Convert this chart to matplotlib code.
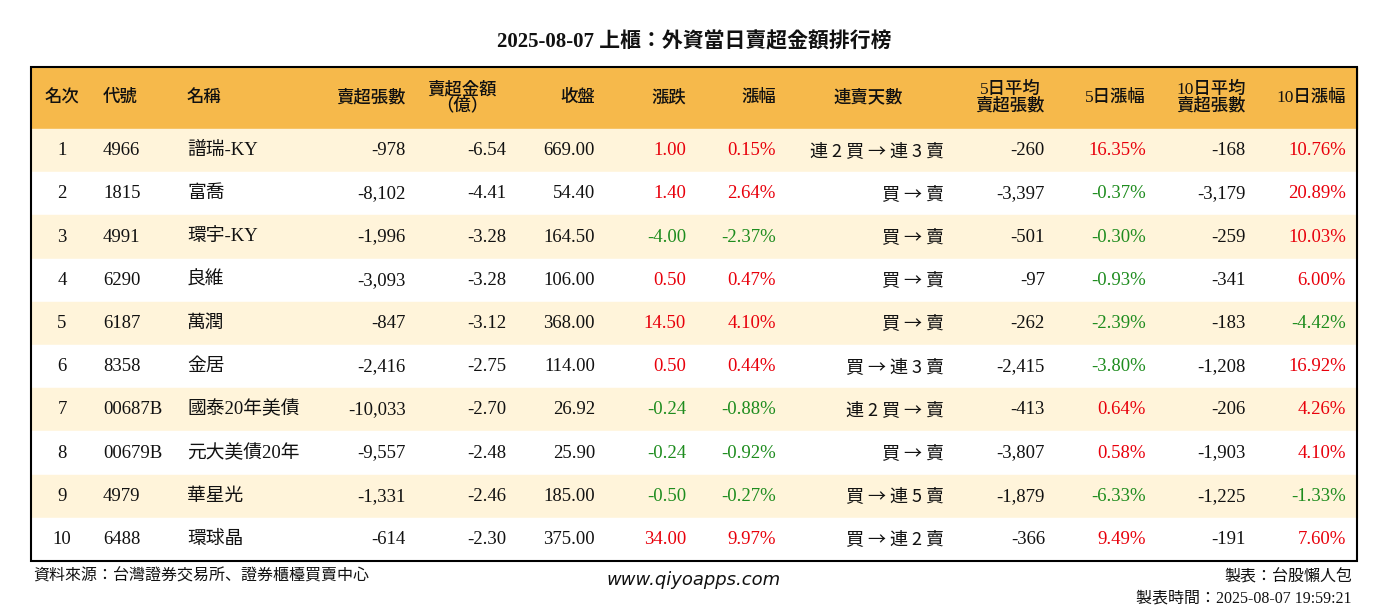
import matplotlib
matplotlib.use("Agg")
import matplotlib.pyplot as plt
from matplotlib.patches import Rectangle
from matplotlib import font_manager as fm

ranks = list(range(1, 11))
codes = ["4966","1815","4991","6290","6187","8358","00687B","00679B","4979","6488"]
names = ["譜瑞-KY","富喬","環宇-KY","良維","萬潤","金居","國泰20年美債","元大美債20年","華星光","環球晶"]
sell_vol = [-978,-8102,-1996,-3093,-847,-2416,-10033,-9557,-1331,-614]
sell_amt = [-6.54,-4.41,-3.28,-3.28,-3.12,-2.75,-2.70,-2.48,-2.46,-2.30]
close = [669.00,54.40,164.50,106.00,368.00,114.00,26.92,25.90,185.00,375.00]
change = [1.00,1.40,-4.00,0.50,14.50,0.50,-0.24,-0.24,-0.50,34.00]
pct = [0.15,2.64,-2.37,0.47,4.10,0.44,-0.88,-0.92,-0.27,9.97]
streak = ["連 2 買 → 連 3 賣","買 → 賣","買 → 賣","買 → 賣","買 → 賣","買 → 連 3 賣","連 2 買 → 賣","買 → 賣","買 → 連 5 賣","買 → 連 2 賣"]
avg5 = [-260,-3397,-501,-97,-262,-2415,-413,-3807,-1879,-366]
pct5 = [16.35,-0.37,-0.30,-0.93,-2.39,-3.80,0.64,0.58,-6.33,9.49]
avg10 = [-168,-3179,-259,-341,-183,-1208,-206,-1903,-1225,-191]
pct10 = [10.76,20.89,10.03,6.00,-4.42,16.92,4.26,4.10,-1.33,7.60]

names_avail = sorted({f.name for f in fm.fontManager.ttflist})
cjk = [n for n in names_avail if "CJK" in n]
pref = [n for n in ["Noto Sans CJK TC", "Noto Sans CJK JP", "Noto Sans CJK SC"] if n in cjk] or cjk
FF = ["Liberation Serif"] + pref[:1]
FS = pref[:1] + ["Liberation Serif"]

W, H = 1388, 612
fig = plt.figure(figsize=(W/100, H/100), dpi=100)
ax = fig.add_axes([0, 0, 1, 1])
ax.set_xlim(0, W); ax.set_ylim(H, 0); ax.axis("off")
RED, GREEN, BLK = "#E8000B", "#1E8C1E", "#111111"

def t(x, y, s, ha="left", color=BLK, size=13.5, fam=None, **kw):
    ax.text(x, y, s, ha=ha, va="center", color=color, fontsize=size, family=fam or FF, **kw)

t(694, 42, "2025-08-07 上櫃：外資當日賣超金額排行榜", ha="center", size=15, fontweight="bold")

L, R, top, hb = 31, 1357, 67, 129
rh = 43.2
ax.add_patch(Rectangle((L, top), R-L, hb-top, color="#F6B94B", zorder=0))
for i in range(10):
    y0 = hb + i*rh
    ax.add_patch(Rectangle((L, y0), R-L, rh, color="#FFF4DA" if i % 2 == 0 else "white", zorder=0))
bottom = hb + 10*rh
ax.add_patch(Rectangle((L, top), R-L, bottom-top, fill=False, ec="black", lw=1.5, zorder=3))

hy = 98
hdr = [(62,"名次","center"),(103,"代號","left"),(187,"名稱","left"),(406,"賣超張數","right"),
       (462,"賣超金額\n（億）","center"),(595,"收盤","right"),(686,"漲跌","right"),(776,"漲幅","right"),
       (868,"連賣天數","center"),(1045,"5日平均\n賣超張數","right"),(1146,"5日漲幅","right"),
       (1246,"10日平均\n賣超張數","right"),(1346,"10日漲幅","right")]
for x, s, ha in hdr:
    ax.text(x, hy, s, ha=ha, va="center", fontsize=12.5, family=FF, fontweight="medium",
            linespacing=0.95, multialignment="center", color=BLK)

def col(v):
    return RED if v > 0 else (GREEN if v < 0 else BLK)

for i in range(10):
    y = hb + (i+0.5)*rh
    t(62, y, str(ranks[i]), ha="center")
    t(103, y, codes[i])
    t(187, y, names[i])
    t(406, y, f"{sell_vol[i]:,}", ha="right")
    t(506, y, f"{sell_amt[i]:.2f}", ha="right")
    t(595, y, f"{close[i]:.2f}", ha="right")
    t(686, y, f"{change[i]:.2f}", ha="right", color=col(change[i]))
    t(776, y, f"{pct[i]:.2f}%", ha="right", color=col(pct[i]))
    t(944, y, streak[i], ha="right", size=13, fam=FS)
    t(1045, y, f"{avg5[i]:,}", ha="right")
    t(1146, y, f"{pct5[i]:.2f}%", ha="right", color=col(pct5[i]))
    t(1246, y, f"{avg10[i]:,}", ha="right")
    t(1346, y, f"{pct10[i]:.2f}%", ha="right", color=col(pct10[i]))

t(33, 577, "資料來源：台灣證券交易所、證券櫃檯買賣中心", size=11.5)
ax.text(694, 580, "www.qiyoapps.com", ha="center", va="center", fontsize=13, style="italic", family="DejaVu Sans", color=BLK)
t(1352, 577, "製表：台股懶人包", ha="right", size=11.5)
t(1352, 598, "製表時間：2025-08-07 19:59:21", ha="right", size=11.5)
fig.savefig("out.png", dpi=100)
